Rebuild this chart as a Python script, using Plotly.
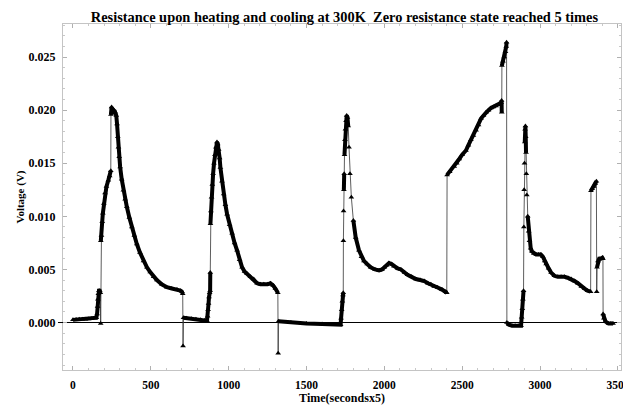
import plotly.graph_objects as go

# ---- data ----
time_vals = [
    0, 20, 40, 60, 80, 100, 120, 140, 150,
    155, 158, 160, 163, 167, 172, 176, 178,
    179, 183, 188, 192, 198, 206, 215, 227, 236, 243,
    244, 248, 252, 256, 260, 265, 272, 278, 283, 288, 292, 297, 303, 313, 324, 335, 346,
    362, 378, 394, 410, 430, 453, 475, 496, 518, 539, 570, 603, 635, 668, 690, 700, 705,
    707,
    710, 730, 760, 790, 820, 845, 861, 865, 868, 871, 874, 878, 881,
    882,
    883, 886, 890, 895, 900, 906, 912, 918, 925, 930, 936, 942, 947, 957, 968, 979, 990,
    1006, 1022, 1038, 1054, 1070, 1086, 1102, 1118, 1140, 1161, 1183, 1204, 1226, 1250,
    1268, 1285, 1300, 1316,
    1318,
    1320, 1400, 1500, 1600, 1700, 1719, 1722, 1726, 1730, 1734, 1736,
    1737,
    1738, 1740, 1742, 1744, 1747, 1750, 1754, 1758, 1763, 1768, 1773, 1779, 1788, 1801,
    1816, 1837, 1853, 1869, 1890, 1912, 1940, 1966, 1985, 2000, 2015, 2030, 2046, 2062,
    2085, 2106, 2130, 2149, 2175, 2202, 2230, 2256, 2280, 2299, 2320, 2342, 2370, 2395, 2401,
    2403, 2420, 2449, 2465, 2481, 2500, 2524, 2540, 2556, 2572, 2589, 2605, 2621, 2637,
    2653, 2669, 2685, 2700, 2717, 2735, 2750, 2753,
    2754,
    2755, 2762, 2770, 2778, 2783, 2785,
    2787, 2800, 2820, 2840, 2860, 2878, 2882, 2886, 2890, 2894,
    2896,
    2898, 2900, 2902, 2904, 2906, 2908, 2910, 2912, 2915, 2921, 2927, 2932, 2940, 2947,
    2960, 2975, 2990, 3005, 3018, 3030, 3039, 3055, 3071, 3092, 3114, 3135, 3157, 3180,
    3200, 3222, 3243, 3265, 3286, 3305, 3325,
    3327, 3335, 3345, 3355, 3362,
    3364,
    3366, 3372, 3380, 3390, 3400, 3404,
    3405, 3410, 3420, 3440, 3455, 3469,
]

voltage_vals = [
    0.00025, 0.00028, 0.0003, 0.0003, 0.00032, 0.00033, 0.00036, 0.0004, 0.00045,
    0.0008, 0.0015, 0.0022, 0.0027, 0.003, 0.003, 0.0028, -0.0001,
    0.0077, 0.0082, 0.0095, 0.0103, 0.0112, 0.0122, 0.0128, 0.0134, 0.0138, 0.0143,
    0.0196, 0.0203, 0.0199, 0.0201, 0.0197, 0.0200, 0.0198, 0.0195, 0.0187, 0.0175, 0.0165, 0.0156, 0.01465, 0.0135, 0.01245, 0.0116, 0.0109,
    0.0099, 0.0090, 0.0082, 0.0074, 0.0066, 0.0058, 0.0052, 0.00475, 0.0043, 0.0040, 0.0036, 0.00333, 0.0032, 0.0031, 0.0030, 0.0029, 0.0027,
    -0.0022,
    0.00045, 0.0004, 0.00035, 0.0003, 0.00025, 0.0002, 0.0002, 0.0006, 0.0012, 0.0018, 0.0024, 0.0028, 0.003,
    0.0047,
    0.0093, 0.0105, 0.0118, 0.0130, 0.0140, 0.0150, 0.0158, 0.0165, 0.0170, 0.0168, 0.0163, 0.0155, 0.0146, 0.0133, 0.0121, 0.0111, 0.0102,
    0.0092, 0.0084, 0.0075, 0.0068, 0.0059, 0.0052, 0.0048, 0.0046, 0.0043, 0.0041, 0.0037, 0.0036, 0.0036, 0.0036,
    0.0037, 0.0035, 0.0032, 0.0028,
    -0.0029,
    0.00013, 0.0000, -0.0001, -0.00015, -0.0002, -0.0002, 0.0004, 0.0012, 0.0020, 0.0026, 0.0028,
    0.0077,
    0.0105, 0.0125, 0.0140, 0.0158, 0.0172, 0.0182, 0.0190, 0.0195, 0.0193, 0.0185, 0.0165, 0.0140, 0.0118, 0.0096,
    0.0080, 0.0068, 0.0062, 0.0058, 0.0055, 0.0052, 0.0050, 0.0049, 0.0050, 0.0052, 0.0054, 0.0056, 0.0055, 0.0053,
    0.0051, 0.0050, 0.0047, 0.0045, 0.0043, 0.0041, 0.0040, 0.0039, 0.0037, 0.0036, 0.0034, 0.0033, 0.0031, 0.0029, 0.0028,
    0.0139, 0.0142, 0.0147, 0.0150, 0.0154, 0.0158, 0.0162, 0.0167, 0.0172, 0.0176, 0.0181, 0.0186, 0.0192, 0.0195,
    0.0198, 0.0200, 0.0202, 0.0203, 0.0204, 0.0205, 0.0207, 0.0209,
    0.0198,
    0.0242, 0.0246, 0.0250, 0.0255, 0.0260, 0.0264,
    0.0000, -0.0002, -0.0003, -0.0003, -0.0003, -0.0003, 0.0005, 0.0013, 0.0022, 0.0030,
    0.0090,
    0.0125, 0.0150, 0.0170, 0.0182, 0.0185, 0.0175, 0.0160, 0.0140, 0.0120, 0.0100, 0.0086, 0.0077, 0.0070, 0.0067,
    0.0065, 0.0064, 0.0064, 0.0064, 0.0062, 0.0058, 0.0055, 0.0051, 0.0047, 0.0044, 0.0043, 0.0043, 0.0043, 0.0042,
    0.0041, 0.0039, 0.0037, 0.0034, 0.0032, 0.0030, 0.0029,
    0.0124, 0.0126, 0.0128, 0.0131, 0.0133,
    0.0029,
    0.0052, 0.0058, 0.0060, 0.0060, 0.0061, 0.0060,
    0.0008, 0.0004, 0.0001, -0.0001, -0.0001, -0.0001,
]

x_tick_vals = [0, 500, 1000, 1500, 2000, 2500, 3000, 3500]
y_tick_vals = [0.0, 0.005, 0.010, 0.015, 0.020, 0.025]
y_tick_text = ["0.000", "0.005", "0.010", "0.015", "0.020", "0.025"]

title_text = "Resistance upon heating and cooling at 300K  Zero resistance state reached 5 times"
x_title = "Time(secondsx5)"
y_title = "Voltage (V)"

# ---- build a thick "dense marker" band that is broken at vertical jumps ----
JUMP = 0.0018
band_x, band_y = [], []
for i, (xv, yv) in enumerate(zip(time_vals, voltage_vals)):
    if i > 0 and abs(yv - voltage_vals[i - 1]) > JUMP:
        band_x.append(None)
        band_y.append(None)
    band_x.append(xv)
    band_y.append(yv)

FONT = "Liberation Serif, Times New Roman, serif"

fig = go.Figure()
fig.add_trace(go.Scatter(
    x=time_vals, y=voltage_vals, mode="lines",
    line=dict(color="#333333", width=0.8), hoverinfo="skip", showlegend=False))
fig.add_trace(go.Scatter(
    x=band_x, y=band_y, mode="lines",
    line=dict(color="black", width=4), connectgaps=False,
    hoverinfo="skip", showlegend=False))
fig.add_trace(go.Scatter(
    x=time_vals, y=voltage_vals, mode="markers",
    marker=dict(symbol="triangle-up", size=5, color="black"),
    showlegend=False))

# short stub of the zero axis that pokes out to the left of the frame
fig.add_shape(type="line", xref="paper", yref="y", x0=-0.009, x1=0, y0=0, y1=0,
              line=dict(color="black", width=1))

axis_common = dict(
    showline=True, linecolor="#c4c4c4", linewidth=1, mirror="allticks",
    ticks="inside", ticklen=4, tickcolor="#b0b0b0", showgrid=False,
    automargin=False,
)

# page body has an 8px default margin, so the figure is sized to the rest of the window
fig.update_layout(
    width=623, height=400,
    margin=dict(l=55, r=10, t=16, b=38),
    paper_bgcolor="white", plot_bgcolor="white",
    title=dict(text=title_text, xref="container", x=0.54, xanchor="center",
               yref="container", y=0.978, yanchor="middle", automargin=False,
               font=dict(family=FONT, size=14.4, color="black", weight="bold")),
    xaxis=dict(range=[-64, 3520], tickvals=x_tick_vals, zeroline=False,
               ticklabelstandoff=4,
               tickfont=dict(family=FONT, size=11.5, color="black", weight="bold"),
               minor=dict(ticks="inside", ticklen=2, tickcolor="#c8c8c8", dtick=100),
               title=dict(text=x_title, standoff=0,
                          font=dict(family=FONT, size=12, color="black", weight="bold")),
               **axis_common),
    yaxis=dict(range=[-0.00447, 0.02811], tickvals=y_tick_vals, ticktext=y_tick_text,
               zeroline=True, zerolinecolor="black", zerolinewidth=1,
               ticklabelstandoff=4,
               tickfont=dict(family=FONT, size=12, color="black", weight="bold"),
               minor=dict(ticks="inside", ticklen=2, tickcolor="#c8c8c8", dtick=0.001),
               title=dict(text=y_title, standoff=1,
                          font=dict(family=FONT, size=11, color="black", weight="bold")),
               **axis_common),
)

fig.write_html("out.html")
